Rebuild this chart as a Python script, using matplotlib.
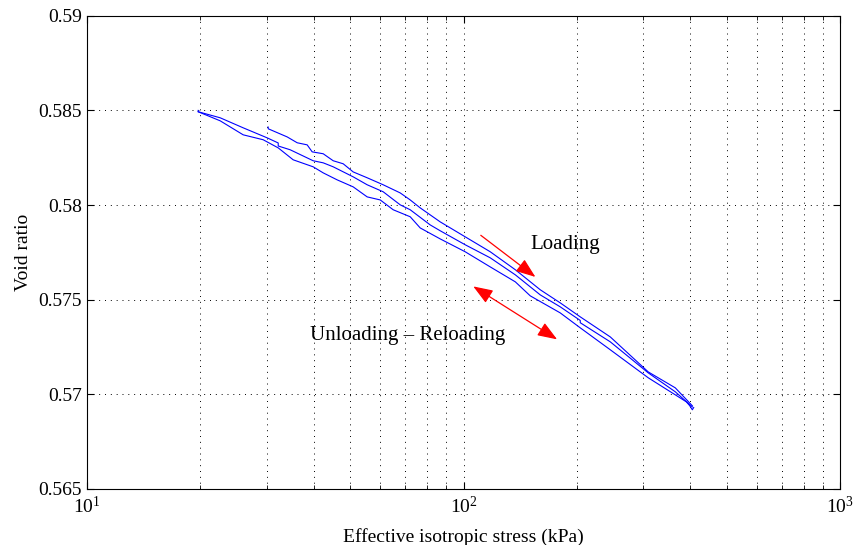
import matplotlib
matplotlib.use("Agg")
import matplotlib.pyplot as plt

plt.rcParams['font.family'] = ['Liberation Serif', 'DejaVu Serif']
plt.rcParams['mathtext.fontset'] = 'custom'
plt.rcParams['mathtext.rm'] = 'Liberation Serif'

# unloading branch (30 -> 400 kPa, upper curve)
stress_upper = [30.26, 30.26, 33.98, 36.13, 38.40, 39.59, 42.35, 45.02, 47.86, 50.87,
                55.42, 61.12, 67.82, 72.09, 76.63, 86.60, 100.9, 117.6, 137.1, 159.7,
                180.4, 203.9, 245.0, 309.0, 364.5, 404.6]
e_upper = [0.58412, 0.58403, 0.58360, 0.58329, 0.58318, 0.58281, 0.58271, 0.58234, 0.58218, 0.58175,
           0.58144, 0.58107, 0.58064, 0.58027, 0.57985, 0.57911, 0.57832, 0.57753, 0.57658, 0.57552,
           0.57483, 0.57409, 0.57303, 0.57118, 0.57034, 0.56939]

# middle curve (20 -> 400 kPa)
stress_mid = [19.72, 22.56, 25.97, 30.07, 32.17, 32.17, 34.61, 39.83, 42.35, 45.02,
              50.87, 55.42, 61.12, 67.82, 72.09, 81.46, 86.60, 100.9, 117.6, 137.1,
              159.7, 180.4, 203.9, 203.9, 245.0, 309.0, 364.5, 404.6]
e_mid = [0.58493, 0.58461, 0.58408, 0.58355, 0.58328, 0.58312, 0.58292, 0.58234, 0.58223, 0.58202,
         0.58149, 0.58107, 0.58070, 0.58001, 0.57975, 0.57895, 0.57864, 0.57790, 0.57721, 0.57631,
         0.57525, 0.57462, 0.57390, 0.57378, 0.57277, 0.57113, 0.57013, 0.56933]

# lower curve (20 -> 400 kPa)
stress_low = [19.72, 19.72, 22.56, 25.97, 29.34, 32.17, 35.25, 39.83, 42.35, 46.13,
              50.87, 55.42, 60.01, 64.97, 72.09, 76.63, 86.60, 100.9, 117.6, 137.1,
              150.2, 180.4, 203.9, 245.0, 309.0, 364.5, 390.0, 398.0, 404.6, 408.0]
e_low = [0.58500, 0.58493, 0.58445, 0.58371, 0.58345, 0.58302, 0.58239, 0.58202, 0.58170, 0.58133,
         0.58096, 0.58043, 0.58027, 0.57975, 0.57938, 0.57879, 0.57821, 0.57753, 0.57673, 0.57594,
         0.57520, 0.57430, 0.57351, 0.57235, 0.57087, 0.56997, 0.56960, 0.56940, 0.56918, 0.56930]

fig = plt.figure(figsize=(8.54, 5.45), dpi=100)
ax = fig.add_axes([0.102, 0.103, 0.882, 0.868])

for s, e in [(stress_low, e_low), (stress_mid, e_mid), (stress_upper, e_upper)]:
    ax.plot(s, e, color='#0000ff', linewidth=0.8)

ax.set_xscale('log')
ax.set_xlim(10, 1000)
ax.set_ylim(0.565, 0.59)
ax.set_yticks([0.565, 0.57, 0.575, 0.58, 0.585, 0.59])
ax.set_yticklabels(['0.565', '0.57', '0.575', '0.58', '0.585', '0.59'])

grid_style = dict(color='black', linestyle=(0, (1, 5)), linewidth=0.7)
ax.grid(True, which='major', **grid_style)
ax.xaxis.grid(True, which='minor', **grid_style)

ax.tick_params(which='both', direction='in', top=True, right=True, labelsize=14)
ax.tick_params(which='major', length=5)
ax.tick_params(which='minor', length=3)
ax.tick_params(axis='x', which='both', pad=5)
for sp in ax.spines.values():
    sp.set_linewidth(0.8)

ax.set_xlabel('Effective isotropic stress (kPa)', fontsize=14, labelpad=8)
ax.set_ylabel('Void ratio', fontsize=14, labelpad=5)

arrow_kw = dict(arrowstyle='-|>,head_length=1.2,head_width=0.45', color='red', lw=0.9,
                shrinkA=0, shrinkB=0)
ax.annotate('', xy=(155, 0.5762), xytext=(111, 0.5784), arrowprops=arrow_kw)
arrow2 = dict(arrow_kw, arrowstyle='<|-|>,head_length=1.2,head_width=0.45')
ax.annotate('', xy=(106, 0.5757), xytext=(177, 0.5729), arrowprops=arrow2)

ax.text(150, 0.5779, 'Loading', fontsize=15, ha='left', va='center')
ax.text(71, 0.5731, 'Unloading \u2013 Reloading', fontsize=15, ha='center', va='center')

fig.savefig('out.png', dpi=100)
